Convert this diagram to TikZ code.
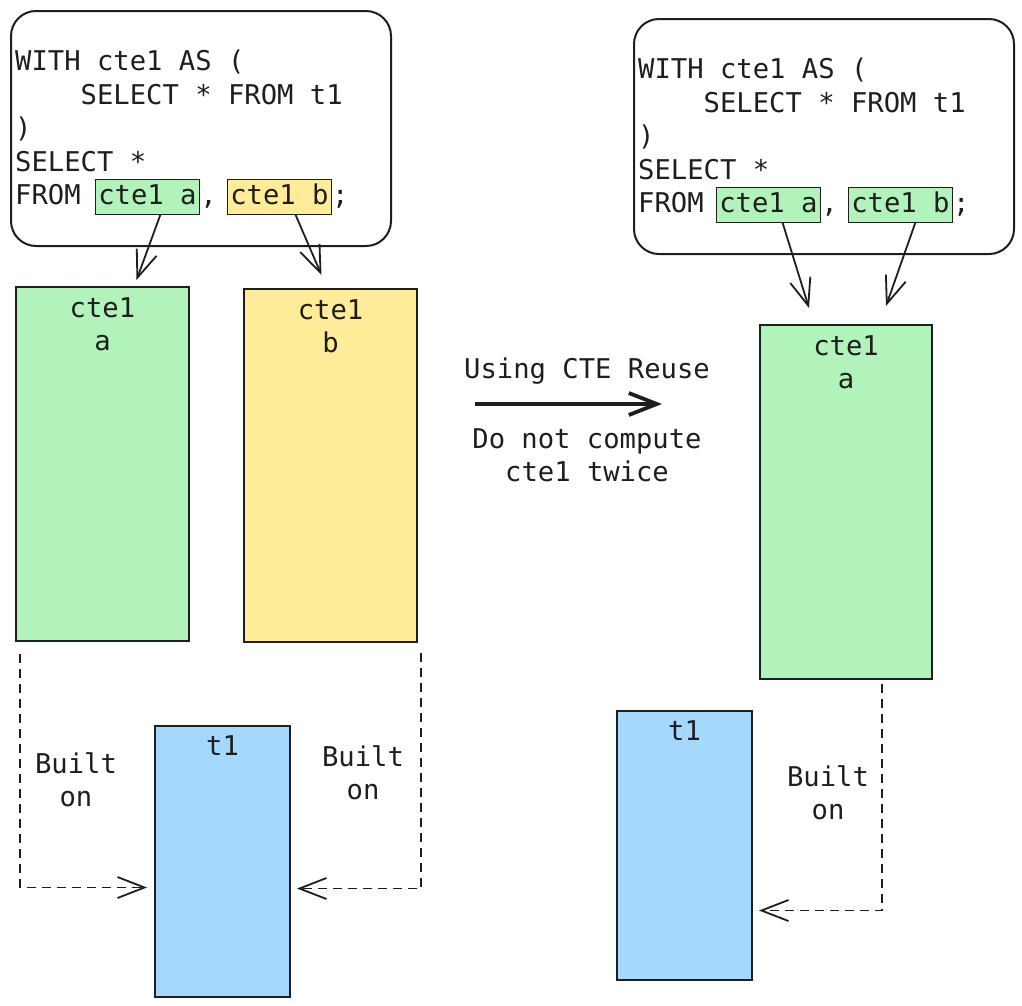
\documentclass[tikz,border=0pt]{standalone}
\usepackage{fontspec}
\newfontfamily\codefamily{DejaVu Sans Mono}
\newcommand{\codefont}{\codefamily\fontsize{27.2pt}{33.4pt}\selectfont}
\usetikzlibrary{arrows.meta,positioning}
\definecolor{ink}{HTML}{1E1E1E}
\definecolor{cteGreen}{HTML}{B2F2BB}
\definecolor{cteYellow}{HTML}{FFEC99}
\definecolor{baseBlue}{HTML}{A5D8FF}

\begin{document}
\begin{tikzpicture}[
		x=1pt, y=-1pt,
		every node/.style={text=ink},
		codeline/.style={font=\codefont, inner sep=0pt, text height=22pt, text depth=7pt},
		codeblock/.style={font=\codefont, inner sep=0pt, align=left},
		ref/.style={codeline, draw=ink, line width=0.9pt, inner xsep=3pt, inner ysep=3pt},
		query/.style={draw=ink, line width=2pt, rounded corners=25pt},
		relation/.style={draw=ink, line width=2pt, anchor=north west},
		title/.style={font=\codefont, inner sep=0pt, align=center, anchor=north},
		note/.style={font=\codefont, inner sep=0pt, align=center},
		arrow/.style={draw=ink, line width=1.8pt, -{Straight Barb[length=27pt,width=21pt]}},
		dep/.style={arrow, dash pattern=on 9pt off 6pt},
		bigarrow/.style={draw=ink, line width=3.8pt, -{Straight Barb[length=28pt,width=22pt]}},
	]
		\useasboundingbox (0,0) rectangle (1022,1005);

		% original plan
		\node [query, minimum width=380pt, minimum height=235pt, anchor=north west] (queryL) at (10,10) {};
		\node [codeblock, anchor=north west] (codeL) at (15,50) {WITH cte1 AS (\\\phantom{SELE}SELECT * FROM t1\\)\\SELECT *};
		\node [codeline, anchor=west] (fromL) at (15,196.5) {FROM};
		\node [ref, fill=cteGreen, right=14pt of fromL] (refLa) {cte1 a};
		\node [codeline, right=0pt of refLa] (commaL) {,};
		\node [ref, fill=cteYellow, right=10pt of commaL] (refLb) {cte1 b};
		\node [codeline, right=0pt of refLb] (semiL) {;};

		\node [relation, fill=cteGreen, minimum width=173pt, minimum height=354pt] (cteLa) at (15,286) {};
		\node [title, below=11pt of cteLa.north] (cteLaName) {cte1\\a};
		\node [relation, fill=cteYellow, minimum width=173pt, minimum height=353pt] (cteLb) at (243,288) {};
		\node [title, below=11pt of cteLb.north] (cteLbName) {cte1\\b};
		\node [relation, fill=baseBlue, minimum width=135pt, minimum height=271pt] (tL) at (154,725) {};
		\node [title, below=10pt of tL.north] (tLName) {t1};

		\node [note] (builtLa) at (76,780) {Built\\on};
		\node [note] (builtLb) at (363,773) {Built\\on};

		\draw[arrow] ([xshift=13pt]refLa.south) -- ([xshift=34pt,yshift=6pt]cteLa.north);
		\draw[arrow] ([xshift=16pt]refLb.south) -- ([xshift=-9pt,yshift=13pt]cteLb.north);
		\draw[dep] ([xshift=5pt,yshift=-12pt]cteLa.south west) |- ([xshift=-7pt,yshift=-26pt]tL.west);
		\draw[dep] ([xshift=3pt,yshift=-10pt]cteLb.south east) |- ([xshift=6pt,yshift=-27pt]tL.east);

		% rewrite
		\node [note] (reuse) at (587,371) {Using CTE Reuse};
		\coordinate (reuseStart) at (475,404);
		\coordinate (reuseEnd) at (662,404);
		\draw[bigarrow] (reuseStart) -- (reuseEnd);
		\node [note] (reuseNote) at (587,455) {Do not compute\\cte1 twice};

		% reused plan
		\node [query, minimum width=380pt, minimum height=235pt, anchor=north west] (queryR) at (633,18) {};
		\node [codeblock, anchor=north west] (codeR) at (638,58) {WITH cte1 AS (\\\phantom{SELE}SELECT * FROM t1\\)\\SELECT *};
		\node [codeline, anchor=west] (fromR) at (638,204.5) {FROM};
		\node [ref, fill=cteGreen, right=12pt of fromR] (refRa) {cte1 a};
		\node [codeline, right=0pt of refRa] (commaR) {,};
		\node [ref, fill=cteGreen, right=10pt of commaR] (refRb) {cte1 b};
		\node [codeline, right=0pt of refRb] (semiR) {;};

		\node [relation, fill=cteGreen, minimum width=172pt, minimum height=354pt] (cteRa) at (759,324) {};
		\node [title, below=11pt of cteRa.north] (cteRaName) {cte1\\a};
		\node [relation, fill=baseBlue, minimum width=135pt, minimum height=269pt] (tR) at (616,710) {};
		\node [title, below=10pt of tR.north] (tRName) {t1};

		\node [note] (builtR) at (828,793) {Built\\on};

		\draw[arrow] ([xshift=14pt]refRa.south) -- ([xshift=-37pt,yshift=16pt]cteRa.north);
		\draw[arrow] ([xshift=15pt]refRb.south) -- ([xshift=40pt,yshift=18pt]cteRa.north);
		\draw[dep] ([xshift=36pt,yshift=-4pt]cteRa.south) |- ([xshift=6pt,yshift=-65pt]tR.east);
	\end{tikzpicture}
\end{document}
